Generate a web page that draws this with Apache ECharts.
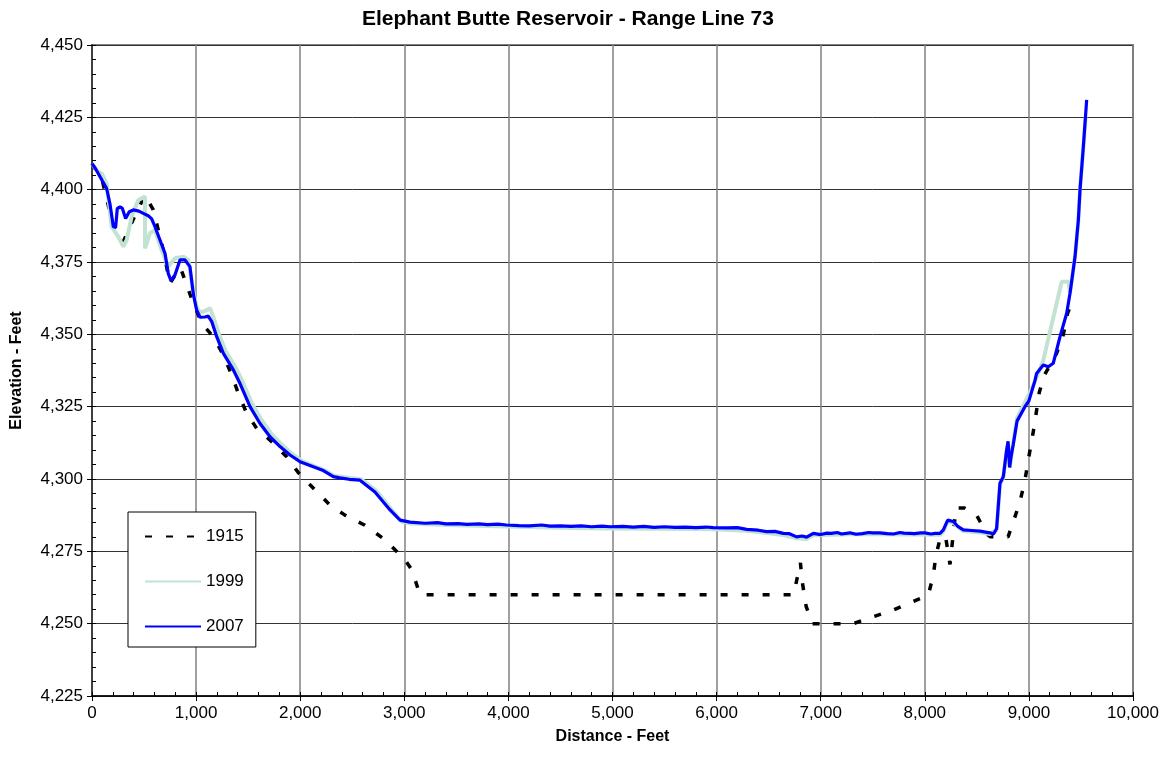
<!DOCTYPE html>
<html>
<head>
<meta charset="utf-8">
<title>Elephant Butte Reservoir - Range Line 73</title>
<script src="https://cdn.jsdelivr.net/npm/echarts@6/dist/echarts.min.js"></script>
<style>
  html, body { margin: 0; padding: 0; background: #fff; }
  #chart { width: 1168px; height: 764px; }
</style>
</head>
<body>
<div id="chart"></div>
<script>
// Cross-section survey profiles, distance along range line (ft) vs elevation (ft)
const dist1915 = [0, 100, 200, 300, 400, 509, 589, 637, 685, 749, 790, 850, 950, 1053, 1165, 1262, 1342, 1406, 1486, 1582, 1726, 1870, 1982, 2094, 2286, 2430, 2622, 2815, 3007, 3074, 3150, 6740, 6805, 6825, 6860, 6920, 7313, 7505, 7697, 7858, 8034, 8082, 8105, 8150, 8200, 8242, 8300, 8380, 8498, 8594, 8630, 8800, 8850, 8914, 8962, 8994, 9050, 9100, 9150, 9266, 9330, 9372, 9400];
const elev1915 = [4409, 4403, 4388, 4382, 4390, 4398.2, 4393, 4386, 4379, 4367.6, 4370, 4373, 4363, 4353.8, 4349.2, 4342.8, 4335.9, 4329.6, 4322.7, 4317.5, 4312.9, 4307.7, 4302.2, 4298, 4291, 4287.5, 4284, 4279, 4272, 4268.5, 4260, 4260, 4271, 4264, 4256, 4250, 4250, 4252.4, 4254.7, 4257.2, 4259.9, 4266.8, 4273.1, 4280, 4280, 4270.5, 4290, 4290, 4287.5, 4281, 4280, 4280, 4285.2, 4292.1, 4299.6, 4306.5, 4318, 4330, 4336, 4343.4, 4349.8, 4357.3, 4360];

const dist1999 = [0, 50, 93, 141, 189, 253, 301, 333, 381, 445, 509, 510, 557, 605, 669, 733, 797, 877, 925, 973, 1005, 1040, 1090, 1134, 1170, 1215, 1280, 1375, 1440, 1535, 1630, 1725, 1820, 1915, 2010, 2140, 2235, 2330, 2430, 2590, 2735, 2880, 2975, 3070, 3400, 3983, 4600, 4976, 5400, 5968, 6289, 6481, 6641, 6769, 6865, 6929, 7281, 7570, 8146, 8178, 8220, 8274, 8370, 8530, 8626, 8690, 8722, 8754, 8786, 8800, 8815, 8850, 8886, 8962, 9050, 9138, 9315, 9380, 9395, 9443, 9475, 9491, 9523, 9545];
const elev1999 = [4409, 4406.5, 4405.6, 4402, 4387.2, 4383.7, 4380.3, 4382.6, 4390.7, 4396.4, 4397.6, 4379.7, 4385, 4386, 4379.1, 4373.4, 4376.3, 4376.8, 4375.7, 4365, 4359.4, 4357.5, 4358.2, 4359, 4355.5, 4350.5, 4344.5, 4338.8, 4334.2, 4326.2, 4320.3, 4315.5, 4312, 4308.9, 4306.4, 4304.4, 4303, 4301, 4300.6, 4299.8, 4295.8, 4289.3, 4285.3, 4284.6, 4284.1, 4283.6, 4283.1, 4282.9, 4282.8, 4282.6, 4282.1, 4281.3, 4280.6, 4279.5, 4279.3, 4280.6, 4280.9, 4280.9, 4280.7, 4281.9, 4285.4, 4284.9, 4282, 4281.5, 4281, 4282.4, 4298, 4300.5, 4309.5, 4312, 4304, 4312.5, 4321, 4326.5, 4333, 4341, 4368.2, 4368.2, 4364.2, 4376.8, 4389.5, 4399.9, 4414.8, 4425];

const dist2007 = [0, 30, 60, 100, 140, 173, 205, 227, 243, 269, 291, 323, 358, 397, 450, 493, 540, 572, 605, 653, 701, 733, 759, 797, 845, 893, 941, 973, 1005, 1037, 1085, 1117, 1150, 1198, 1262, 1358, 1422, 1518, 1614, 1710, 1806, 1902, 1998, 2126, 2222, 2318, 2380, 2414, 2470, 2574, 2718, 2863, 2959, 3055, 3200, 3320, 3400, 3520, 3600, 3720, 3800, 3900, 3983, 4100, 4200, 4320, 4400, 4500, 4600, 4700, 4800, 4900, 4976, 5100, 5200, 5300, 5400, 5500, 5600, 5700, 5800, 5900, 5968, 6100, 6200, 6289, 6400, 6481, 6560, 6641, 6700, 6769, 6820, 6865, 6929, 7000, 7060, 7100, 7160, 7200, 7281, 7340, 7400, 7460, 7500, 7570, 7640, 7700, 7760, 7800, 7860, 7900, 7960, 8000, 8060, 8100, 8146, 8178, 8220, 8274, 8320, 8370, 8450, 8530, 8626, 8660, 8690, 8722, 8754, 8786, 8800, 8815, 8830, 8850, 8886, 8962, 9000, 9058, 9074, 9138, 9186, 9234, 9299, 9363, 9395, 9443, 9475, 9491, 9523, 9555];
const elev2007 = [4409, 4407.5, 4405.6, 4403, 4400.5, 4395, 4387.2, 4387, 4393.5, 4394, 4393.6, 4390, 4392.4, 4393, 4392.6, 4391.8, 4391, 4390, 4387.2, 4382.6, 4378, 4371, 4368.5, 4370.5, 4375.7, 4375.7, 4373.4, 4364, 4358.4, 4355.9, 4356, 4356.3, 4354.4, 4349.2, 4343.4, 4337.7, 4333, 4325, 4319.2, 4314.6, 4311.2, 4308.3, 4306, 4304.2, 4302.9, 4300.8, 4300.4, 4300.2, 4299.9, 4299.6, 4295.5, 4289.3, 4285.8, 4285.1, 4284.7, 4284.9, 4284.5, 4284.6, 4284.3, 4284.5, 4284.2, 4284.4, 4284.1, 4283.9, 4283.8, 4284.1, 4283.7, 4283.8, 4283.6, 4283.8, 4283.5, 4283.7, 4283.5, 4283.6, 4283.4, 4283.6, 4283.3, 4283.5, 4283.3, 4283.4, 4283.2, 4283.4, 4283.2, 4283.1, 4283.2, 4282.6, 4282.3, 4281.8, 4281.9, 4281.2, 4281.1, 4280, 4280.3, 4279.9, 4281.2, 4280.8, 4281.3, 4281.2, 4281.5, 4281, 4281.4, 4280.9, 4281.1, 4281.5, 4281.4, 4281.4, 4281.1, 4281, 4281.5, 4281.3, 4281.2, 4281.1, 4281.4, 4281.4, 4281, 4281.2, 4281.2, 4282.4, 4285.8, 4285.3, 4283.5, 4282.4, 4282.2, 4282, 4281.4, 4281, 4282.9, 4298.5, 4300.8, 4310, 4313, 4304, 4308, 4312, 4320, 4325, 4327, 4334, 4336.5, 4339.4, 4338.8, 4340, 4349.2, 4357.3, 4364.2, 4376.8, 4389.5, 4399.9, 4414.8, 4431];

const seriesNames = ['1915', '1999', '2007'];
const xTicks = { min: 0, max: 10000, step: 1000, minorStep: 200 };
const yTicks = { min: 4225, max: 4450, step: 25, minorStep: 5 };

function pairs(xs, ys) {
  return xs.map((x, i) => [x, ys[i]]);
}

const FONT = 'Liberation Sans, Arial, Helvetica, sans-serif';
const fmt = v => Number(v).toLocaleString('en-US');

const chart = echarts.init(document.getElementById('chart'), null, { renderer: 'canvas' });

chart.setOption({
  animation: false,
  backgroundColor: '#ffffff',
  title: {
    text: 'Elephant Butte Reservoir - Range Line 73',
    left: 362,
    top: 9,
    padding: 0,
    textStyle: { fontFamily: FONT, fontSize: 21, fontWeight: 'bold', color: '#000' }
  },
  legend: {
    data: seriesNames,
    orient: 'vertical',
    left: 128,
    top: 512,
    padding: [16, 12, 12, 16],
    itemGap: 28,
    itemWidth: 56,
    itemHeight: 14,
    itemStyle: { opacity: 0 },
    backgroundColor: '#ffffff',
    borderColor: '#000000',
    borderWidth: 1,
    borderRadius: 0,
    textStyle: { fontFamily: FONT, fontSize: 17, color: '#000' }
  },
  grid: {
    left: 92, right: 35, top: 45, bottom: 68,
    show: true,
    borderColor: '#808080',
    borderWidth: 2,
    backgroundColor: '#ffffff'
  },
  xAxis: [
    {
      type: 'value',
      min: xTicks.min, max: xTicks.max, interval: xTicks.step,
      name: 'Distance - Feet',
      nameLocation: 'middle',
      nameGap: 33,
      nameTextStyle: { fontFamily: FONT, fontSize: 16, fontWeight: 'bold', color: '#000' },
      axisLine: { show: true, onZero: false, lineStyle: { color: '#000', width: 1.5 } },
      axisTick: { show: true, inside: false, length: 5, lineStyle: { color: '#000', width: 1 } },
      axisLabel: { formatter: fmt, margin: 9, fontFamily: FONT, fontSize: 17, color: '#000' },
      splitLine: { show: true, lineStyle: { color: '#808080', width: 1.5 } }
    },
    {
      type: 'value',
      position: 'bottom',
      min: xTicks.min, max: xTicks.max, interval: xTicks.minorStep,
      axisLine: { show: false, onZero: false },
      axisTick: { show: true, inside: true, length: 4, lineStyle: { color: '#000', width: 1 } },
      axisLabel: { show: false },
      splitLine: { show: false }
    }
  ],
  yAxis: [
    {
      type: 'value',
      min: yTicks.min, max: yTicks.max, interval: yTicks.step,
      name: 'Elevation - Feet',
      nameLocation: 'middle',
      nameGap: 67,
      nameRotate: 90,
      nameTextStyle: { fontFamily: FONT, fontSize: 16, fontWeight: 'bold', color: '#000' },
      axisLine: { show: true, onZero: false, lineStyle: { color: '#404040', width: 2 } },
      axisTick: { show: true, inside: false, length: 5, lineStyle: { color: '#000', width: 1 } },
      axisLabel: { formatter: fmt, margin: 9, fontFamily: FONT, fontSize: 17, color: '#000' },
      splitLine: { show: true, lineStyle: { color: '#333333', width: 1 } }
    },
    {
      type: 'value',
      position: 'left',
      min: yTicks.min, max: yTicks.max, interval: yTicks.minorStep,
      axisLine: { show: false, onZero: false },
      axisTick: { show: true, inside: true, length: 4, lineStyle: { color: '#000', width: 1 } },
      axisLabel: { show: false },
      splitLine: { show: false }
    }
  ],
  series: [
    {
      name: '1915',
      type: 'line',
      xAxisIndex: 0, yAxisIndex: 0,
      data: pairs(dist1915, elev1915),
      symbol: 'none',
      showSymbol: false,
      lineStyle: { color: '#000000', width: 3.5, type: [7, 14], cap: 'butt' },
      itemStyle: { color: '#000000' },
      z: 2
    },
    {
      name: '1999',
      type: 'line',
      xAxisIndex: 0, yAxisIndex: 0,
      data: pairs(dist1999, elev1999),
      symbol: 'none',
      showSymbol: false,
      lineStyle: { color: '#c2e2d2', width: 4 },
      itemStyle: { color: '#c2e2d2' },
      z: 3
    },
    {
      name: '2007',
      type: 'line',
      xAxisIndex: 0, yAxisIndex: 0,
      data: pairs(dist2007, elev2007),
      symbol: 'none',
      showSymbol: false,
      lineStyle: { color: '#0000ff', width: 3.2 },
      itemStyle: { color: '#0000ff' },
      z: 4
    }
  ]
});
</script>
</body>
</html>
